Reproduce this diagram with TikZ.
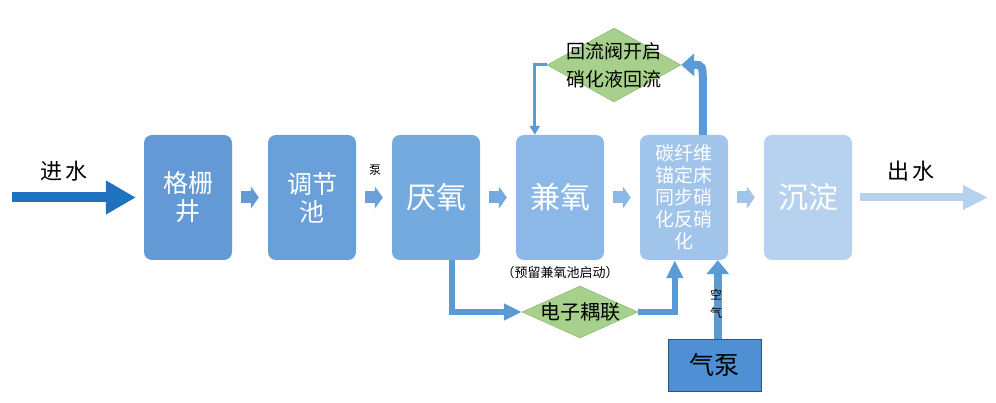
\documentclass[tikz,border=0pt]{standalone}
\usepackage{fontspec}
\newfontfamily\cjk{Noto Sans CJK SC}
\usetikzlibrary{shapes.geometric,arrows.meta,calc}

\definecolor{boxA}{RGB}{99,154,214}
\definecolor{boxB}{RGB}{106,160,218}
\definecolor{boxC}{RGB}{117,170,223}
\definecolor{boxD}{RGB}{139,184,230}
\definecolor{boxE}{RGB}{160,196,234}
\definecolor{boxF}{RGB}{183,210,239}
\definecolor{inblue}{RGB}{31,114,189}
\definecolor{pipe}{RGB}{91,155,213}
\definecolor{leaf}{RGB}{168,208,141}
\definecolor{leafline}{RGB}{130,180,100}
\definecolor{pump}{RGB}{79,143,211}

\tikzset{
    tank/.style={rounded corners=8pt, minimum width=88pt, minimum height=125pt,
        inner sep=0pt, text=white, align=center, font=\cjk\fontsize{25}{28}\selectfont},
    chev/.style={line width=12pt, -{Triangle[length=8pt, width=22pt]}, shorten <=9pt, shorten >=9pt},
    valve/.style={diamond, draw=leafline, fill=leaf, inner sep=0pt},
    pipeline/.style={draw=pipe, line width=6pt, -{Triangle[length=18pt, width=16pt]}},
    label/.style={font=\cjk\fontsize{13}{15}\selectfont, inner sep=0pt}
}

\begin{document}
\begin{tikzpicture}[x=1pt, y=-1pt]
    \useasboundingbox (0,0) rectangle (996,403);

    % Tanks
    \foreach \i/\x/\c in {1/188/boxA, 2/312/boxB, 3/436/boxC, 4/560/boxD, 5/684/boxE, 6/808/boxF}{
        \node[tank, fill=\c] (b\i) at (\x, 197.5){};
    }
    \node[tank] at (b1){格栅\\井};
    \node[tank] at (b2){调节\\池};
    \node[tank, font=\cjk\fontsize{30}{34}\selectfont] at (b3){厌氧};
    \node[tank, font=\cjk\fontsize{30}{34}\selectfont] at (b4){兼氧};
    \node[tank, font=\cjk\fontsize{19}{22}\selectfont] at (b5){碳纤维\\锚定床\\同步硝\\化反硝\\化};
    \node[tank, font=\cjk\fontsize{30}{34}\selectfont] at (b6){沉淀};

    % Arrows between tanks
    \foreach \i/\j/\c in {1/2/boxA, 2/3/boxB, 3/4/boxC, 4/5/boxD, 5/6/boxE}{
        \draw[chev, draw=\c] (b\i.east) -- (b\j.west);
    }
    \node[label, font=\cjk\fontsize{12}{14}\selectfont] (pumplabel) at (375, 170){泵};

    % Inlet and outlet
    \coordinate (inlet) at (12, 197.5);
    \coordinate (outlet) at (988, 197.5);
    \draw[draw=inblue, line width=10pt, -{Triangle[length=30pt, width=32pt]}, shorten >=8pt] (inlet) -- (b1.west);
    \draw[draw=boxF, line width=8pt, -{Triangle[length=25pt, width=23pt]}, shorten <=8pt] (b6.east) -- (outlet);
    \node[font=\cjk\fontsize{22}{24}\selectfont] (inlabel) at (64, 171){进\,水};
    \node[font=\cjk\fontsize{22}{24}\selectfont] (outlabel) at (911, 171){出\,水};

    % Nitrified liquid return
    \node[valve, minimum width=134pt, minimum height=74pt] (ret) at (614, 65){};
    \node[align=center, font=\cjk\fontsize{19}{28}\selectfont] (retlabel) at (ret){回流阀开启\\硝化液回流};
    \coordinate (retbend) at ($(b5.north west)+(63,-50)$);
    \draw[draw=pipe, line width=8pt, -{Triangle[length=13pt, width=22pt]}]
        ($(b5.north west)+(63,0)$) -- (retbend) .. controls ($(retbend)+(0,-20)$) .. (ret.east);
    \draw[draw=pipe, line width=3pt, -{Triangle[length=9pt, width=10pt]}]
        (ret.west) -| ($(b4.north west)+(19,0)$);

    % Electron coupling
    \node[valve, minimum width=116pt, minimum height=52pt] (couple) at (580, 312){};
    \node[font=\cjk\fontsize{20}{22}\selectfont] (couplelabel) at (couple){电子耦联};
    \node[label] (note) at (560, 273){（预留兼氧池启动）};
    \draw[pipeline] ($(b3.south west)+(60,0)$) |- (couple.west);
    \draw[pipeline] (couple.east) -| ($(b5.south west)+(35,0)$);

    % Air pump
    \node[draw=pump!60!black, fill=pump, minimum width=93pt, minimum height=52pt,
        inner sep=0pt, font=\cjk\fontsize{25}{28}\selectfont] (air) at (714.5, 365){气泵};
    \draw[draw=pipe, line width=8pt, -{Triangle[length=14pt, width=22pt]}]
        ($(air.north west)+(50,0)$) -- ($(b5.south west)+(78,0)$);
    \node[label, align=center, font=\cjk\fontsize{12}{18}\selectfont] (airlabel) at (716, 304){空\\气};
\end{tikzpicture}
\end{document}
